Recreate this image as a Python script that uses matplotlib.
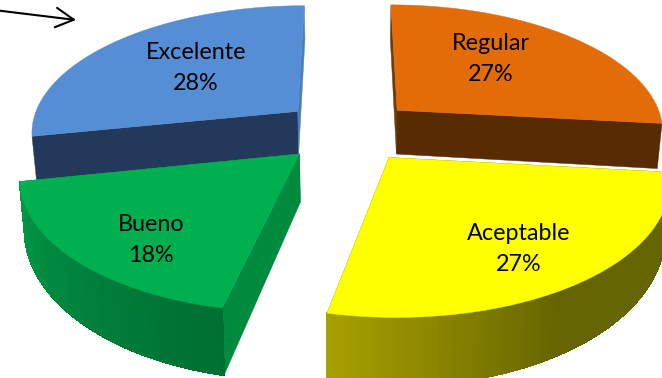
import numpy as np
import matplotlib
matplotlib.use("Agg")
import matplotlib.pyplot as plt
from matplotlib.collections import PolyCollection

# Survey shares in percent, listed clockwise from the top of the pie
categories = ["Regular", "Aceptable", "Bueno", "Excelente"]
shares = [26.7, 26.7, 18.4, 28.2]

top_colors = ["#E36C09", "#FFFF00", "#00B050", "#558ED5"]
# colour of the cut face at the clockwise-start and clockwise-end of each slice
cut_start = ["#6E3A06", "#6A6A00", "#008A3E", "#23395B"]
cut_end = ["#582C03", "#6A6A00", "#008A3E", "#4A7EBB"]
wall_start = ["#8A4206", "#646400", "#006E32", "#3A6AA8"]
wall_end = ["#8A4206", "#A8A000", "#009845", "#3A6AA8"]
# how far along the arc the wall shading begins
wall_ramp = [0.0, 0.55, 0.0, 0.0]
has_front_wall = [False, True, True, False]

# Projection of the tilted, exploded pie onto the canvas
CX, CY = 348.5, 131.0
RX, RY = 268.0, 127.0
PERSPECTIVE = 0.15
DEPTH = 46.0
EXPLODE = 0.25
START_DEG = 90.0


def project(x, y, lowered=False):
    s = 1.0 / (1.0 + PERSPECTIVE * y)
    px = RX * x * s
    py = RY * y * s
    if lowered:
        return CX + px * 0.985, CY - py + DEPTH * s * s
    return CX + px, CY - py


def mix(a, b, t):
    ca = np.array(matplotlib.colors.to_rgb(a))
    cb = np.array(matplotlib.colors.to_rgb(b))
    return tuple(ca + (cb - ca) * t)


def draw_slice(ax, a0, a1, idx, z):
    mid = np.radians((a0 + a1) / 2)
    ox, oy = EXPLODE * np.cos(mid), EXPLODE * np.sin(mid)
    th = np.radians(np.linspace(a0, a1, 160))
    x = ox + np.cos(th)
    y = oy + np.sin(th)

    ux, uy = project(x, y)
    lx, ly = project(x, y, True)
    ax0, ay0 = project(ox, oy)
    bx0, by0 = project(ox, oy, True)

    # flat cut faces running from the apex to each end of the arc
    for k, col in ((0, cut_start[idx]), (-1, cut_end[idx])):
        quad = [(ax0, ay0), (ux[k], uy[k]), (lx[k], ly[k]), (bx0, by0)]
        ax.fill(*zip(*quad), color=col, lw=0.3, zorder=z)

    # curved outer wall, shaded along the arc
    if has_front_wall[idx]:
        quads, cols = [], []
        ramp = wall_ramp[idx]
        for i in range(len(th) - 1):
            f = i / (len(th) - 2)
            quads.append([(ux[i], uy[i]), (ux[i + 1], uy[i + 1]),
                          (lx[i + 1], ly[i + 1]), (lx[i], ly[i])])
            cols.append(mix(wall_start[idx], wall_end[idx],
                            np.clip((f - ramp) / (1 - ramp), 0, 1)))
        ax.add_collection(PolyCollection(quads, facecolors=cols, edgecolors=cols,
                                         linewidths=0.6, antialiaseds=False,
                                         zorder=z + 0.2))

    # top surface
    ax.fill(np.r_[ax0, ux], np.r_[ay0, uy], color=top_colors[idx], lw=0.3, zorder=z + 0.5)


plt.rcParams["font.family"] = ["Lato", "DejaVu Sans"]
fig = plt.figure(figsize=(6.62, 3.78), dpi=100)
ax = fig.add_axes([0, 0, 1, 1])
ax.set_xlim(0, 662)
ax.set_ylim(378, 0)
ax.axis("off")

fractions = np.array(shares) / sum(shares)
edges = START_DEG - 360 * np.r_[0, np.cumsum(fractions)]
# back slices are painted first, front slices over them
for z, i in enumerate((3, 0, 2, 1), start=1):
    draw_slice(ax, edges[i], edges[i + 1], i, z)

label_xy = [(491, 59), (519, 249), (151, 240), (196, 68)]
for name, share, (tx, ty) in zip(categories, shares, label_xy):
    ax.text(tx, ty, f"{name}\n{share:.0f}%", ha="center", va="center",
            fontsize=16.8, linespacing=1.62, color="black", zorder=10)

ax.annotate("", xy=(76, 20), xytext=(-2, 10.5), zorder=10,
            arrowprops=dict(arrowstyle="->,head_length=1.3,head_width=0.7",
                            color="black", lw=1.5, shrinkA=0, shrinkB=0))

fig.savefig("out.png", dpi=100)
